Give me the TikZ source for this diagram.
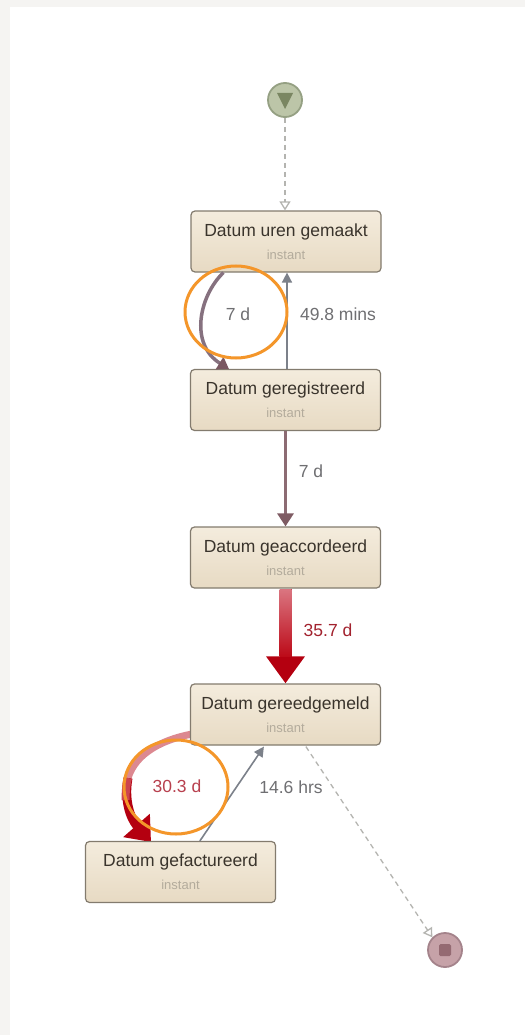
\documentclass[tikz,border=0pt]{standalone}
\usepackage{fontspec}
\setmainfont{Liberation Sans}
\usetikzlibrary{arrows.meta,calc,shapes.geometric}
\definecolor{bggray}{HTML}{F5F4F2}
\definecolor{boxtop}{HTML}{F4ECDD}
\definecolor{boxbot}{HTML}{E7DAC3}
\definecolor{boxborder}{HTML}{837B6E}
\definecolor{titlecol}{HTML}{3A342C}
\definecolor{instcol}{HTML}{B3AB9C}
\definecolor{labgray}{HTML}{6F6F72}
\definecolor{edgegray}{HTML}{7C818A}
\definecolor{dashgray}{HTML}{B4B4B0}
\definecolor{purpcurve}{HTML}{86717F}
\definecolor{purphead}{HTML}{7A5862}
\definecolor{brownline}{HTML}{8C6B73}
\definecolor{brownhead}{HTML}{7E5B63}
\definecolor{redlight}{HTML}{DA7580}
\definecolor{reddark}{HTML}{BC0A18}
\definecolor{redhead}{HTML}{B40010}
\definecolor{redlab}{HTML}{A2222E}
\definecolor{redlab2}{HTML}{B8404E}
\definecolor{curvepink}{HTML}{DC8890}
\definecolor{curvemid}{HTML}{CC4450}
\definecolor{orangering}{HTML}{F4962A}
\definecolor{startfill}{HTML}{BCC5A8}
\definecolor{startdraw}{HTML}{95A083}
\definecolor{startdark}{HTML}{7A8662}
\definecolor{endfill}{HTML}{C6A2A8}
\definecolor{enddraw}{HTML}{A4838B}
\definecolor{enddark}{HTML}{946A72}
\begin{document}
\begin{tikzpicture}[x=1pt,y=-1pt,
  box/.style={rectangle, rounded corners=4pt, draw=boxborder, line width=1.2pt,
    top color=boxtop, bottom color=boxbot, minimum width=190pt, minimum height=61pt, inner sep=0pt},
  title/.style={font=\fontsize{17.5}{20}\selectfont, text=titlecol, inner sep=0pt, anchor=base},
  inst/.style={font=\fontsize{13}{15}\selectfont, text=instcol, inner sep=0pt, anchor=base},
  elab/.style={font=\fontsize{17.5}{20}\selectfont, text=labgray, inner sep=0pt},
  ring/.style={draw=orangering, line width=3pt},
  dashedge/.style={draw=dashgray, line width=1.3pt, dashed, dash pattern=on 5pt off 4pt,
    -{Triangle[width=11pt,length=9pt,open,fill=white]}},
  thinedge/.style={draw=edgegray, line width=1.6pt, -{Triangle[width=10pt,length=10pt]}}
]
\useasboundingbox (0,0) rectangle (525,1035);
\fill[bggray] (0,0) rectangle (525,1035);
\fill[white] (10,7) rectangle (525,1035);

% start and end events
\node[circle, minimum size=34pt, inner sep=0pt, fill=startfill, draw=startdraw, line width=1.8pt] (s) at (285,100) {};
\fill[startdark] ($(s.center)+(-8,-7)$) -- ($(s.center)+(8,-7)$) -- ($(s.center)+(0,9)$) -- cycle;
\node[circle, minimum size=34pt, inner sep=0pt, fill=endfill, draw=enddraw, line width=1.8pt] (e) at (445,950) {};
\fill[enddark, rounded corners=1.5pt] ($(e.center)+(-6,-6)$) rectangle ($(e.center)+(6,6)$);

% b4 -> b5 (30.3 d), red curve (drawn before boxes so it emerges from behind b4)
\coordinate (c5a) at (198,733);
\coordinate (c5b) at (151,842);
\coordinate (c5m) at (128,778);
\draw[draw=curvepink, line width=7pt]
  (c5a) .. controls (165,738) and (136,752) .. (c5m);
\draw[draw=redhead, line width=9pt, -{Triangle[width=34pt,length=22pt,color=redhead]}]
  (c5m) .. controls (124,800) and (130,818) .. (c5b);
\draw[draw=curvemid, line width=8pt]
  (c5m) .. controls (126,786) and (125.5,792) .. (125.6,800);

% boxes
\node[box] (b1) at (286,241.5) {};
\node[box] (b2) at (285.5,400) {};
\node[box] (b3) at (285.5,557.5) {};
\node[box] (b4) at (285.5,714.5) {};
\node[box] (b5) at (180.5,872) {};

\node[title] (b1t) at ($(b1.north)+(0,26)$) {Datum uren gemaakt};
\node[inst]  (b1i) at ($(b1.north)+(0,49)$) {instant};
\node[title] (b2t) at ($(b2.north)+(0,26)$) {Datum geregistreerd};
\node[inst]  (b2i) at ($(b2.north)+(0,49)$) {instant};
\node[title] (b3t) at ($(b3.north)+(0,26)$) {Datum geaccordeerd};
\node[inst]  (b3i) at ($(b3.north)+(0,49)$) {instant};
\node[title] (b4t) at ($(b4.north)+(0,26)$) {Datum gereedgemeld};
\node[inst]  (b4i) at ($(b4.north)+(0,49)$) {instant};
\node[title] (b5t) at ($(b5.north)+(0,26)$) {Datum gefactureerd};
\node[inst]  (b5i) at ($(b5.north)+(0,49)$) {instant};
\node[elab, text=redlab2] (l5) at (177,786) {30.3 d};

% start -> b1
\draw[dashedge] (s.south) -- (b1.north -| s.south);

% b1 -> b2 (curve, 7 d)
\coordinate (c1a) at ($(b1.south west)+(33,0)$);
\coordinate (c1b) at ($(b2.north west)+(39,0)$);
\draw[draw=purpcurve, line width=3.5pt, -{Triangle[width=14pt,length=11pt,color=purphead]}]
  (c1a) .. controls ($(c1a)+(-24,23)$) and ($(c1b)+(-40,-25)$) .. (c1b);
\node[elab] (l1) at (238,314) {7 d};

% b2 -> b1 (49.8 mins)
\coordinate (c2a) at ($(b2.north)+(1.5,0)$);
\draw[thinedge] (c2a) -- (c2a |- b1.south);
\node[elab] (l2) at (338,314) {49.8 mins};

% b2 -> b3 (7 d)
\draw[draw=brownline, line width=3pt, -{Triangle[width=16pt,length=13pt,color=brownhead]}]
  (b2.south) -- (b3.north);
\node[elab] (l3) at (311,471) {7 d};

% b3 -> b4 (35.7 d), thick red
\draw[draw=reddark, line width=12pt, -{Triangle[width=37pt,length=27pt,color=redhead]}]
  (b3.south) -- (b4.north);
\shade[top color=redlight, bottom color=reddark] ($(b3.south)+(-6,0.6)$) rectangle ($(b3.south)+(6,68)$);
\node[elab, text=redlab] (l4) at (328,630) {35.7 d};

% b5 -> b4 (14.6 hrs)
\coordinate (c6a) at ($(b5.north west)+(115,0)$);
\coordinate (c6b) at ($(b4.south west)+(74,1)$);
\draw[thinedge] (c6a) -- (c6b);
\node[elab] (l6) at (291,787) {14.6 hrs};

% b4 -> end (dashed)
\coordinate (c7a) at ($(b4.south west)+(116,1)$);
\draw[dashedge] (c7a) -- (e.north west);

% orange annotation rings
\draw[ring] (236,312) ellipse [x radius=51, y radius=46];
\draw[ring] (176,787) ellipse [x radius=52, y radius=47];
\end{tikzpicture}
\end{document}
